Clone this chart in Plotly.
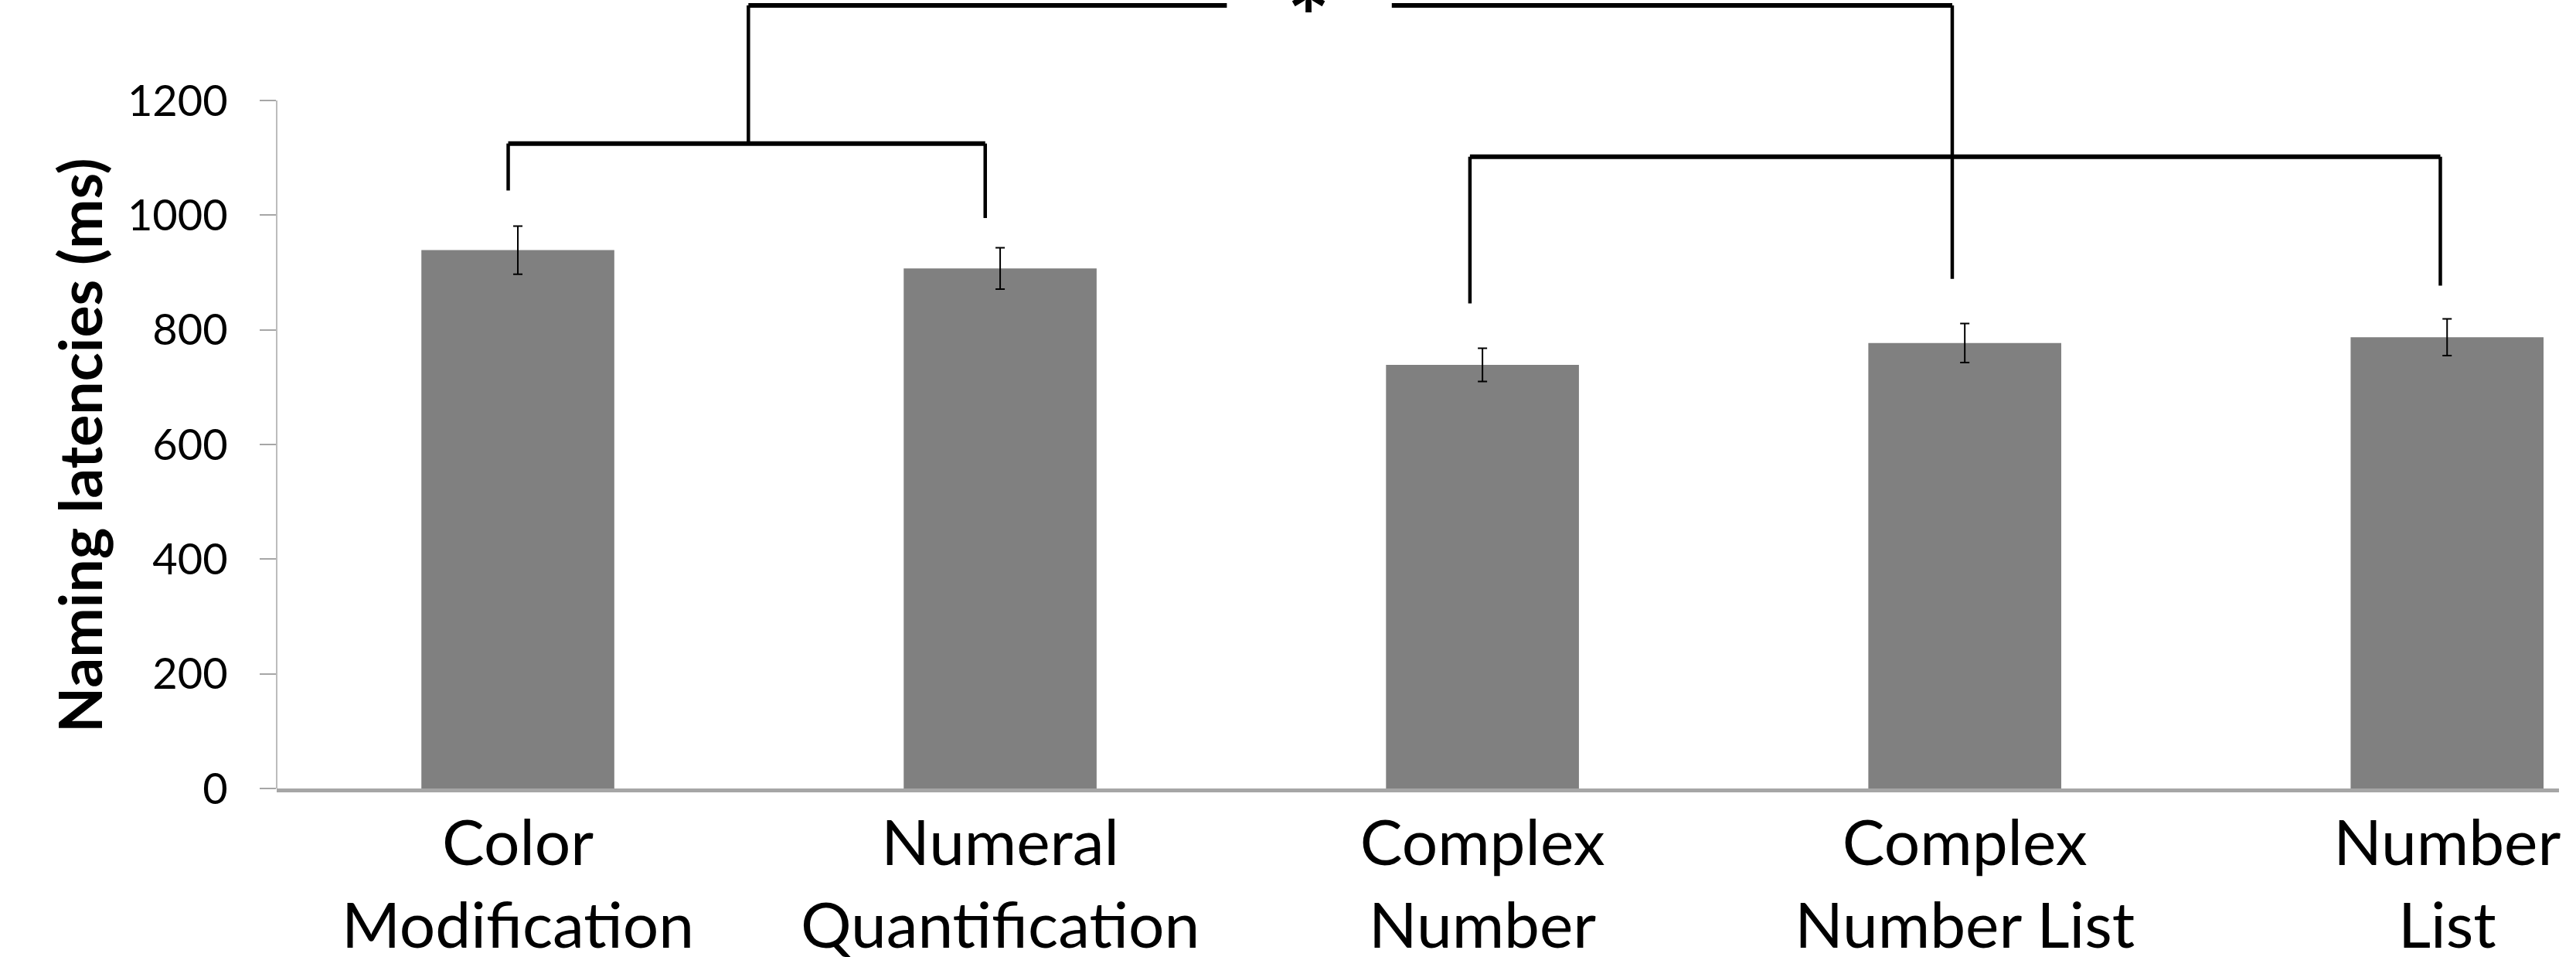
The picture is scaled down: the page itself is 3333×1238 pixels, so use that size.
import plotly.graph_objects as go

# ---- data ----
categories = ["Color<br>Modification", "Numeral<br>Quantification", "Complex<br>Number",
              "Complex<br>Number List", "Number<br>List"]
latencies = [939, 907, 739, 777, 787]
errors = [42, 36, 29, 34, 32]
y_tick_values = [0, 200, 400, 600, 800, 1000, 1200]

# significance brackets (x in category units, y in ms)
left_bracket_x = [-0.02, 0.969]
left_bracket_y = 1125
left_bracket_legs_bottom = [1043, 995]
right_bracket_x = [1.974, 3.986]
right_bracket_y = 1102
right_bracket_legs_bottom = [846, 877]
top_link_x = [0.478, 2.974]
top_link_y = 1366
top_link_right_bottom = 889
star_gap_x = [1.470, 1.812]
star_x = 1.640
star_label = "*"

FONT = "Lato"
BLACK = "#000000"
AXIS_GREY = "#a6a6a6"

fig = go.Figure()
fig.add_trace(go.Bar(
    x=list(range(len(categories))),
    y=latencies,
    width=0.4,
    marker=dict(color="#808080", line=dict(width=0)),
    error_y=dict(type="data", array=errors, visible=True, color=BLACK, thickness=2, width=6),
    showlegend=False,
))

shapes = []
def line(x0, y0, x1, y1, w):
    shapes.append(dict(type="line", xref="x", yref="y", x0=x0, y0=y0, x1=x1, y1=y1,
                       line=dict(color=BLACK, width=w)))

# left bracket
line(left_bracket_x[0], left_bracket_y, left_bracket_x[1], left_bracket_y, 6)
line(left_bracket_x[0], left_bracket_y, left_bracket_x[0], left_bracket_legs_bottom[0], 4.5)
line(left_bracket_x[1], left_bracket_y, left_bracket_x[1], left_bracket_legs_bottom[1], 4.5)
# right bracket
line(right_bracket_x[0], right_bracket_y, right_bracket_x[1], right_bracket_y, 6)
line(right_bracket_x[0], right_bracket_y, right_bracket_x[0], right_bracket_legs_bottom[0], 4.5)
line(right_bracket_x[1], right_bracket_y, right_bracket_x[1], right_bracket_legs_bottom[1], 4.5)
# top link
line(top_link_x[0], left_bracket_y, top_link_x[0], top_link_y, 4.5)
line(top_link_x[0], top_link_y, star_gap_x[0], top_link_y, 6)
line(star_gap_x[1], top_link_y, top_link_x[1], top_link_y, 6)
line(top_link_x[1], top_link_y, top_link_x[1], top_link_right_bottom, 4.5)

# y axis line (0 .. 1200 only)
shapes.append(dict(type="line", xref="paper", yref="y", x0=0, x1=0, y0=0, y1=1200,
                   line=dict(color=AXIS_GREY, width=1.5)))

fig.update_layout(
    width=3333, height=1238,
    margin=dict(l=358, r=22, t=0, b=218, autoexpand=False),
    plot_bgcolor="white", paper_bgcolor="white",
    shapes=shapes,
    bargap=0.6,
    annotations=[
        dict(text="Naming latencies (ms)", textangle=-90, xref="paper", yref="y",
             x=-0.0865, y=598, xanchor="center", yanchor="middle", showarrow=False,
             font=dict(family=FONT, size=77, color=BLACK, weight="bold")),
        dict(text=star_label, xref="x", yref="paper", x=star_x, y=1, xanchor="center",
             yanchor="middle", yshift=-20, showarrow=False,
             font=dict(family=FONT, size=132, color=BLACK, weight="bold")),
    ],
)
fig.update_xaxes(
    range=[-0.5, 4.232], tickmode="array", tickvals=list(range(len(categories))),
    ticktext=categories, showline=True, linecolor=AXIS_GREY, linewidth=5,
    ticks="", showgrid=False, zeroline=False, ticklabelstandoff=-4, automargin=False,
    tickfont=dict(family=FONT, size=82, color=BLACK),
)
fig.update_yaxes(
    range=[0, 1375.3], tickmode="array", tickvals=y_tick_values,
    showline=False, ticks="outside", ticklen=21, tickwidth=1.5, tickcolor=AXIS_GREY,
    showgrid=False, zeroline=False, ticklabelstandoff=30, automargin=False,
    tickfont=dict(family=FONT, size=56, color=BLACK),
)

fig.write_html("out.html", config={"displayModeBar": False},
               post_script="document.body.style.margin='0';document.body.style.overflow='hidden';")
